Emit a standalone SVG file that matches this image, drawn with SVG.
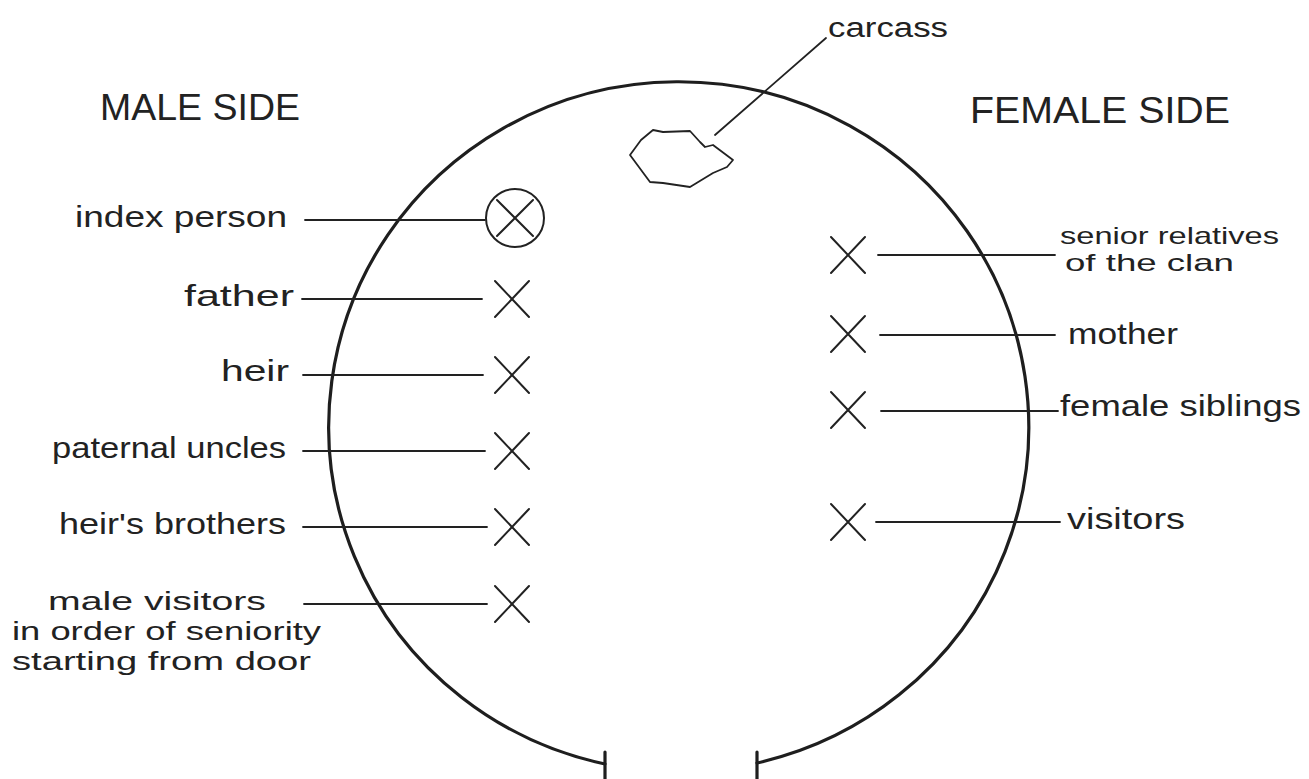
<svg xmlns="http://www.w3.org/2000/svg" width="1309" height="779" viewBox="0 0 1309 779">
<style>
.wall{fill:none;stroke:#1e1e1e;stroke-width:3.2;stroke-linecap:round;stroke-linejoin:round}
.thin{fill:none;stroke:#222;stroke-width:1.8;stroke-linecap:round;stroke-linejoin:round}
.mark{fill:none;stroke:#222;stroke-width:2;stroke-linecap:round}
.t{font-family:"Liberation Sans",Arial,sans-serif;fill:#222}
.lbl{font-size:30px}
.ml{font-size:26px}
.sm{font-size:24px}
.hd{font-size:37px}
</style>
<defs>
<path id="x" d="M-17,-18 L17,18 M17,-18 L-17,18"/>
</defs>
<rect width="1309" height="779" fill="#fff"/>

<g id="hut">
<path class="wall" d="M605,764 A350,345 0 1 1 757,763"/>
<path class="wall" d="M605,752 L605,779 M757,752 L757,779"/>
</g>

<g id="male-side">
<text class="t hd" x="100" y="120" textLength="200" lengthAdjust="spacingAndGlyphs">MALE SIDE</text>
</g>
<g id="female-side">
<text class="t hd" x="970" y="123" textLength="260" lengthAdjust="spacingAndGlyphs">FEMALE SIDE</text>
</g>

<g id="carcass">
<path class="thin" d="M630,155 L641,140 L653,130 L663,132 L690,131 L700,142 L705,147 L713,145 L733,160 L727,167 L713,173 L690,187 L663,183 L650,182 Z"/>
<text class="t" font-size="27" x="828" y="37" textLength="120" lengthAdjust="spacingAndGlyphs">carcass</text>
</g>

<g id="index-person">
<circle class="mark" cx="515" cy="218" r="29"/>
<path class="mark" d="M497,200 L533,236 M533,200 L497,236"/>
<text class="t lbl" x="75" y="227" textLength="212" lengthAdjust="spacingAndGlyphs">index person</text>
</g>
<g id="father">
<use href="#x" class="mark" x="512" y="299"/>
<text class="t lbl" x="184" y="306" textLength="110" lengthAdjust="spacingAndGlyphs">father</text>
</g>
<g id="heir">
<use href="#x" class="mark" x="512" y="375"/>
<text class="t lbl" x="221" y="381" textLength="68" lengthAdjust="spacingAndGlyphs">heir</text>
</g>
<g id="paternal-uncles">
<use href="#x" class="mark" x="512" y="451"/>
<text class="t lbl" x="52" y="458" textLength="234" lengthAdjust="spacingAndGlyphs">paternal uncles</text>
</g>
<g id="heirs-brothers">
<use href="#x" class="mark" x="512" y="527"/>
<text class="t lbl" x="59" y="534" textLength="227" lengthAdjust="spacingAndGlyphs">heir's brothers</text>
</g>
<g id="male-visitors">
<use href="#x" class="mark" x="512" y="604"/>
<text class="t ml" x="48" y="610" textLength="218" lengthAdjust="spacingAndGlyphs">male visitors</text>
<text class="t ml" x="12" y="640" textLength="309" lengthAdjust="spacingAndGlyphs">in order of seniority</text>
<text class="t ml" x="12" y="670" textLength="299" lengthAdjust="spacingAndGlyphs">starting from door</text>
</g>

<g id="senior-relatives">
<use href="#x" class="mark" x="848" y="255"/>
<text class="t sm" x="1060" y="244" textLength="219" lengthAdjust="spacingAndGlyphs">senior relatives</text>
<text class="t sm" x="1065" y="271" textLength="169" lengthAdjust="spacingAndGlyphs">of the clan</text>
</g>
<g id="mother">
<use href="#x" class="mark" x="848" y="334"/>
<text class="t lbl" x="1068" y="344" textLength="110" lengthAdjust="spacingAndGlyphs">mother</text>
</g>
<g id="female-siblings">
<use href="#x" class="mark" x="848" y="410"/>
<text class="t lbl" x="1060" y="416" textLength="241" lengthAdjust="spacingAndGlyphs">female siblings</text>
</g>
<g id="visitors">
<use href="#x" class="mark" x="848" y="522"/>
<text class="t lbl" x="1067" y="529" textLength="118" lengthAdjust="spacingAndGlyphs">visitors</text>
</g>

<g id="connectors">
<path class="thin" d="M715,135 L826,38"/>
<path class="thin" d="M305,220 L485,220"/>
<path class="thin" d="M302,299 L482,299"/>
<path class="thin" d="M303,375 L483,375"/>
<path class="thin" d="M303,451 L485,451"/>
<path class="thin" d="M303,527 L487,527"/>
<path class="thin" d="M304,604 L487,604"/>
<path class="thin" d="M878,255 L1055,255"/>
<path class="thin" d="M880,335 L1055,335"/>
<path class="thin" d="M881,411 L1058,411"/>
<path class="thin" d="M876,522 L1060,522"/>
</g>
</svg>
